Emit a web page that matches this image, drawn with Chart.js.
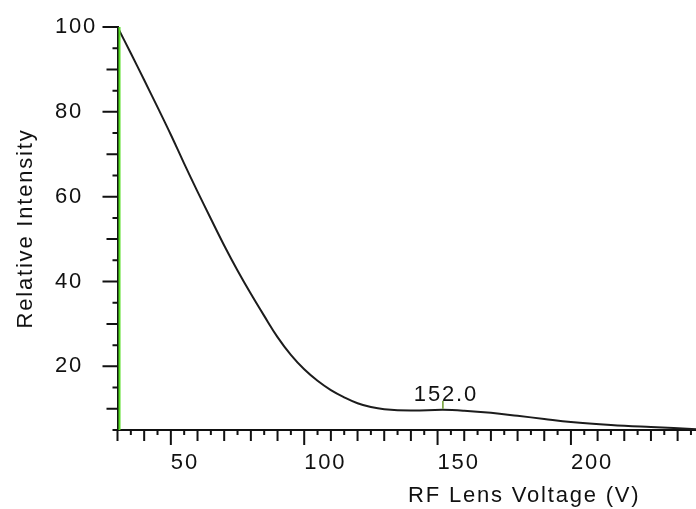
<!DOCTYPE html>
<html>
<head>
<meta charset="utf-8">
<script src="https://cdn.jsdelivr.net/npm/chart.js@4"></script>
<style>
  html, body { margin: 0; padding: 0; background: #fff; overflow: hidden; }
  #wrap { position: relative; width: 931px; height: 509px; }
</style>
</head>
<body>
<div id="wrap"><canvas id="tuneChart"></canvas></div>
<script>
// RF lens voltage ramp vs. relative intensity
var voltage = [30, 35, 40, 45, 50, 55, 60, 65, 70, 75, 80, 85, 90, 95, 100, 105, 110, 115, 120, 125, 130, 140, 152, 160, 170, 180, 190, 200, 215, 230, 247];
var intensity = [100, 93.8, 87.5, 81.1, 74.6, 67.8, 61.2, 54.8, 48.5, 42.6, 37.1, 31.9, 26.9, 22.7, 19.3, 16.6, 14.4, 12.7, 11.3, 10.4, 9.9, 9.6, 9.75, 9.55, 9.05, 8.35, 7.6, 6.9, 6.2, 5.7, 5.2];

var xLabelValues = [50, 100, 150, 200];
var yLabelValues = [20, 40, 60, 80, 100];

var markerVoltage = 30;     // cursor line at the start of the ramp
var peakVoltage = 152.0;    // labelled local maximum
var peakIntensity = intensity[voltage.indexOf(peakVoltage)];

var points = voltage.map(function (v, i) { return { x: v, y: intensity[i] }; });

var axisFont = { family: '"Liberation Sans", Arial, sans-serif', size: 22 };
var ink = '#111';
var cursorGreen = '#55dd22';

// minor/major tick marks, cursor line and peak label
var tuneDecor = {
  id: 'tuneDecor',
  beforeDraw: function (chart) {
    chart.ctx.letterSpacing = '1.8px';
  },
  afterDraw: function (chart) {
    var ctx = chart.ctx;
    var xs = chart.scales.x, ys = chart.scales.y, area = chart.chartArea;
    ctx.save();
    ctx.strokeStyle = ink;
    ctx.lineWidth = 2;
    ctx.beginPath();
    xs.ticks.forEach(function (t) {
      var px = xs.getPixelForValue(t.value);
      var len = t.value % 50 === 0 ? 15 : (t.value % 10 === 0 ? 11 : 5);
      ctx.moveTo(px, area.bottom);
      ctx.lineTo(px, area.bottom + len);
    });
    ys.ticks.forEach(function (t) {
      var py = ys.getPixelForValue(t.value);
      var len = t.value % 20 === 0 ? 15 : (t.value % 10 === 0 ? 11 : 5);
      ctx.moveTo(area.left, py);
      ctx.lineTo(area.left - len, py);
    });
    ctx.stroke();

    // cursor line
    var cx = xs.getPixelForValue(markerVoltage) + 2;
    ctx.strokeStyle = cursorGreen;
    ctx.lineWidth = 2;
    ctx.beginPath();
    ctx.moveTo(cx, area.top);
    ctx.lineTo(cx, area.bottom);
    ctx.stroke();

    // peak marker
    var px = xs.getPixelForValue(peakVoltage);
    var py = ys.getPixelForValue(peakIntensity);
    ctx.lineWidth = 1.5;
    ctx.strokeStyle = '#6a9a2a';
    ctx.beginPath();
    ctx.moveTo(px, py - 1);
    ctx.lineTo(px, py - 9);
    ctx.stroke();
    ctx.fillStyle = ink;
    ctx.font = axisFont.size + 'px ' + axisFont.family;
    ctx.textAlign = 'center';
    ctx.textBaseline = 'alphabetic';
    ctx.fillText(peakVoltage.toFixed(1), px + 3, py - 9);
    ctx.restore();
  }
};

function noSidePadding(s) {
  s.paddingLeft = 0;
  s.paddingRight = 0;
  s.paddingTop = 0;
  s.paddingBottom = 0;
}

new Chart(document.getElementById('tuneChart'), {
  type: 'line',
  data: {
    datasets: [{
      data: points,
      borderColor: '#1c1c1c',
      borderWidth: 2,
      pointRadius: 0,
      fill: false,
      tension: 0.4
    }]
  },
  options: {
    responsive: true,
    maintainAspectRatio: false,
    devicePixelRatio: 1,
    animation: false,
    events: [],
    layout: { padding: { left: 55, top: 27, right: 0, bottom: 0 } },
    plugins: {
      legend: { display: false },
      tooltip: { enabled: false }
    },
    scales: {
      x: {
        type: 'linear',
        min: 30,
        max: 335,
        afterFit: function (s) { s.height = 79; noSidePadding(s); },
        grid: { display: false, drawTicks: false },
        border: { color: ink, width: 2 },
        ticks: {
          stepSize: 5,
          maxTicksLimit: 200,
          autoSkip: false,
          maxRotation: 0,
          minRotation: 0,
          align: 'start',
          padding: 20,
          color: ink,
          font: axisFont,
          callback: function (v) { return xLabelValues.indexOf(v) >= 0 ? String(v) : ''; }
        },
        title: {
          display: true,
          text: 'RF Lens Voltage (V)',
          color: ink,
          font: axisFont,
          padding: { top: 0, bottom: 0 }
        }
      },
      y: {
        min: 5,
        max: 100,
        afterFit: function (s) { s.width = 62.5; noSidePadding(s); },
        grid: { display: false, drawTicks: false },
        border: { color: ink, width: 2 },
        ticks: {
          stepSize: 5,
          maxTicksLimit: 200,
          autoSkip: false,
          crossAlign: 'far',
          padding: 0,
          color: ink,
          font: axisFont,
          callback: function (v) { return yLabelValues.indexOf(v) >= 0 ? String(v) : ''; }
        },
        title: {
          display: true,
          text: 'Relative Intensity',
          color: ink,
          font: axisFont,
          padding: { top: -42.6, bottom: 0 }
        }
      }
    }
  },
  plugins: [tuneDecor]
});
</script>
</body>
</html>
